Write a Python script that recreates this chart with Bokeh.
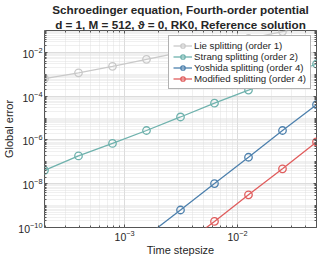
from bokeh.plotting import figure
from bokeh.models import (LinearAxis, FixedTicker, LogTickFormatter, BasicTickFormatter,
                          Legend, LegendItem, Title, Range1d, ColumnDataSource)
from bokeh.embed import file_html
from bokeh.resources import INLINE

# ---- data ----
stepsize = [0.05, 0.025, 0.0125, 0.00625, 0.003125, 0.0015625, 0.00078125,
            0.000390625, 0.0001953125]
lie_err = [1.8e-1, 8.9e-2, 4.3e-2, 2.1e-2, 1.0e-2, 4.8e-3, 2.3e-3, 1.17e-3, 6.3e-4]
strang_err = [2.95e-3, 7.6e-4, 1.9e-4, 4.8e-5, 1.12e-5, 2.7e-6, 6.9e-7, 1.86e-7, 4.1e-8]
yoshida_err = [4.1e-5, 2.7e-6, 1.62e-7, 1.02e-8, 6.3e-10, 4.0e-11]
modified_err = [8.1e-7, 4.8e-8, 3.1e-9, 1.9e-10, 1.26e-11]

series_names = ["Lie splitting (order 1)", "Strang splitting (order 2)",
                "Yoshida splitting (order 4)", "Modified splitting (order 4)"]
series_vals = [lie_err, strang_err, yoshida_err, modified_err]
colors = ["#c9c9c9", "#6fb2ad", "#4d80ad", "#e05d5d"]

x_major = [1e-3, 1e-2]
y_major = [1e-10, 1e-8, 1e-6, 1e-4, 1e-2]

x_minor = [m * 10.0 ** e for e in (-4, -3, -2) for m in range(1, 10)
           if m * 10.0 ** e not in x_major]
y_minor = [m * 10.0 ** e for e in range(-10, -1) for m in range(1, 10)
           if m * 10.0 ** e not in y_major]

FONT = "Liberation Sans"
INK = "#262626"
EDGE = "#555555"

p = figure(width=319, height=260, x_axis_type="log", y_axis_type="log",
           x_range=Range1d(stepsize[-1], stepsize[0]), y_range=Range1d(1e-10, 1e-1),
           output_backend="svg", toolbar_location=None,
           min_border_left=34, min_border_right=3, min_border_top=22, min_border_bottom=33)

p.outline_line_color = EDGE
p.outline_line_width = 1
p.background_fill_color = "white"
p.border_fill_color = "white"

xt = FixedTicker(ticks=x_major, minor_ticks=x_minor)
yt = FixedTicker(ticks=y_major, minor_ticks=y_minor)

for ax, t in ((p.xaxis[0], xt), (p.yaxis[0], yt)):
    ax.ticker = t
    ax.formatter = LogTickFormatter()
    ax.axis_line_color = None
    ax.major_tick_in = 3
    ax.major_tick_out = 0
    ax.minor_tick_in = 2
    ax.minor_tick_out = 0
    ax.major_tick_line_color = EDGE
    ax.minor_tick_line_color = EDGE
    ax.major_label_text_font = FONT
    ax.major_label_text_font_size = "10.5px"
    ax.major_label_text_color = INK
    ax.axis_label_text_font = FONT
    ax.axis_label_text_font_size = "11px"
    ax.axis_label_text_font_style = "normal"
    ax.axis_label_text_color = INK
    ax.major_label_standoff = 2
    ax.axis_label_standoff = 0

p.xaxis.axis_label = "Time stepsize"
p.yaxis.axis_label = "Global error"

for side, t in (("above", xt), ("right", yt)):
    ax = LinearAxis(ticker=t, formatter=BasicTickFormatter(), axis_line_color=None,
                    major_tick_in=3, major_tick_out=0, minor_tick_in=2, minor_tick_out=0,
                    major_tick_line_color=EDGE, minor_tick_line_color=EDGE,
                    major_label_text_font_size="1px", major_label_text_alpha=0.0,
                    major_label_standoff=0, axis_label_standoff=0)
    p.add_layout(ax, side)

for g, t in ((p.xgrid[0], xt), (p.ygrid[0], yt)):
    g.ticker = t
    g.grid_line_color = "#dcdcdc"
    g.grid_line_width = 1
    g.minor_grid_line_color = "#e0e0e0"
    g.minor_grid_line_dash = "1 1"
    g.minor_grid_line_width = 1

items = []
for name, vals, c in zip(series_names, series_vals, colors):
    src = ColumnDataSource(dict(x=stepsize[:len(vals)], y=vals))
    r1 = p.line("x", "y", source=src, line_color=c, line_width=1.3)
    r2 = p.scatter("x", "y", source=src, marker="circle", size=7.5,
                   fill_color=None, line_color=c, line_width=1.3)
    items.append(LegendItem(label=name, renderers=[r1, r2]))

leg = Legend(items=items, location="top_right", margin=5, padding=4, spacing=0,
             glyph_height=11, glyph_width=19, label_height=11, label_standoff=2,
             label_text_font=FONT, label_text_font_size="9.7px",
             label_text_color=INK,
             border_line_color="#666666", border_line_width=1,
             background_fill_color="white", background_fill_alpha=1.0)
p.add_layout(leg, "center")

t2 = Title(text="d = 1, M = 512, \u03d1 = 0, RK0, Reference solution", align="center",
           text_font=FONT, text_font_size="11.7px", text_font_style="bold",
           text_color=INK, standoff=0, offset=0)
t1 = Title(text="Schroedinger equation, Fourth-order potential", align="center",
           text_font=FONT, text_font_size="11.7px", text_font_style="bold",
           text_color=INK, standoff=0, offset=0)
p.add_layout(t2, "above")
p.add_layout(t1, "above")

open("out.html", "w").write(file_html(p, INLINE))
